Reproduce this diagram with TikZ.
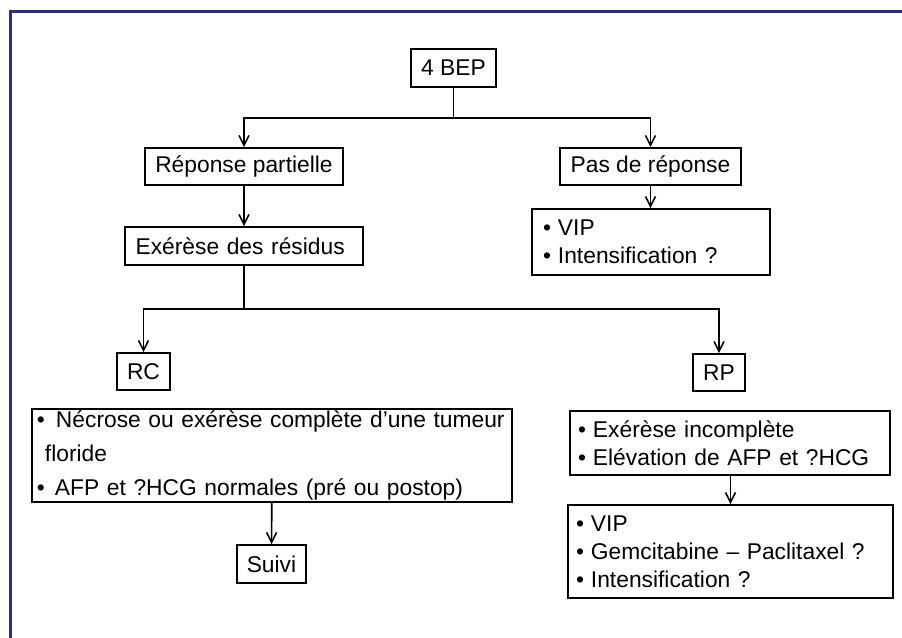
\documentclass[tikz,border=0pt]{standalone}
\usepackage{fontspec}
\setmainfont{Liberation Sans}
\usepackage{xcolor}
\usepackage{tikz}
\usetikzlibrary{arrows.meta,positioning}

\definecolor{cadre}{RGB}{44,47,126}
\newcommand{\puce}[1][7.5pt]{\makebox[#1][l]{\textbullet}}

\begin{document}
\begin{tikzpicture}[x=0.5pt, y=-0.5pt, >={Straight Barb[length=5pt,width=5pt]}, line width=0.8pt,
    font=\fontsize{11.4}{14}\selectfont]

\tikzstyle{boite}=[
    draw,
    rectangle,
    inner sep=0pt,
    align=center,
    minimum height=18.5pt
]
\tikzstyle{liste}=[boite, align=left]

\useasboundingbox (0,0) rectangle (902,638);
\draw[cadre, line width=1.5pt] (10.5,638) -- (10.5,11.5) -- (902,11.5);

\node[boite, minimum width=42.5pt, minimum height=19pt] (BEP) at (453.5,68) {4 BEP};
\node[boite, minimum width=99pt] (RPart) at (244,166.5) {Réponse partielle};
\node[boite, minimum width=90.5pt] (PasRep) at (650.5,166.5) {Pas de réponse};
\node[liste, minimum height=19pt, inner xsep=5.3pt, text width=108.4pt] (Exer) at (244,246) {Exérèse des résidus};
\node[liste, minimum height=33pt, inner xsep=5.5pt, text width=108pt] (VIP_1) at (651,242)
    {\puce VIP\\ \puce Intensification ?};
\node[boite, minimum width=26.5pt] (RC) at (143.5,371.5) {RC};
\node[boite, minimum width=26pt] (RP) at (719,372.5) {RP};
\node[liste, minimum height=46.5pt, inner xsep=2.5pt, text width=235pt] (Necr) at (272,455.5)
    {\puce[9.5pt]Nécrose ou exérèse complète d’une tumeur\\[3pt]
     \hspace{4pt}floride\\[3pt]
     \puce[9pt]AFP et ?HCG normales (pré ou postop)};
\node[liste, minimum height=32pt, inner xsep=4pt, text width=152pt] (ExInc) at (730,443)
    {\puce Exérèse incomplète\\ \puce Elévation de AFP et ?HCG};
\node[liste, minimum height=46.5pt, inner xsep=4pt, text width=154.5pt] (VIP_2) at (730.5,551.5)
    {\puce VIP\\ \puce Gemcitabine -- Paclitaxel ?\\ \puce Intensification ?};
\node[boite, minimum width=34.5pt, minimum height=19pt] (Suivi) at (271.5,564) {Suivi};

\coordinate (J_1) at (453.5,118);
\coordinate (J_2) at (244,309);

\draw (BEP) -- (J_1);
\draw[->] (J_1) -| (RPart);
\draw[->] (J_1) -| (PasRep);
\draw[->] (RPart) -- (Exer);
\draw[->] (PasRep) -- (PasRep |- VIP_1.north);
\draw (Exer) -- (J_2);
\draw[->] (J_2) -| (RC);
\draw[->] (J_2) -| (RP);
\draw[->] (Necr) -- (Suivi);
\draw[->] (ExInc.south -| VIP_2) -- (VIP_2);

\end{tikzpicture}
\end{document}
